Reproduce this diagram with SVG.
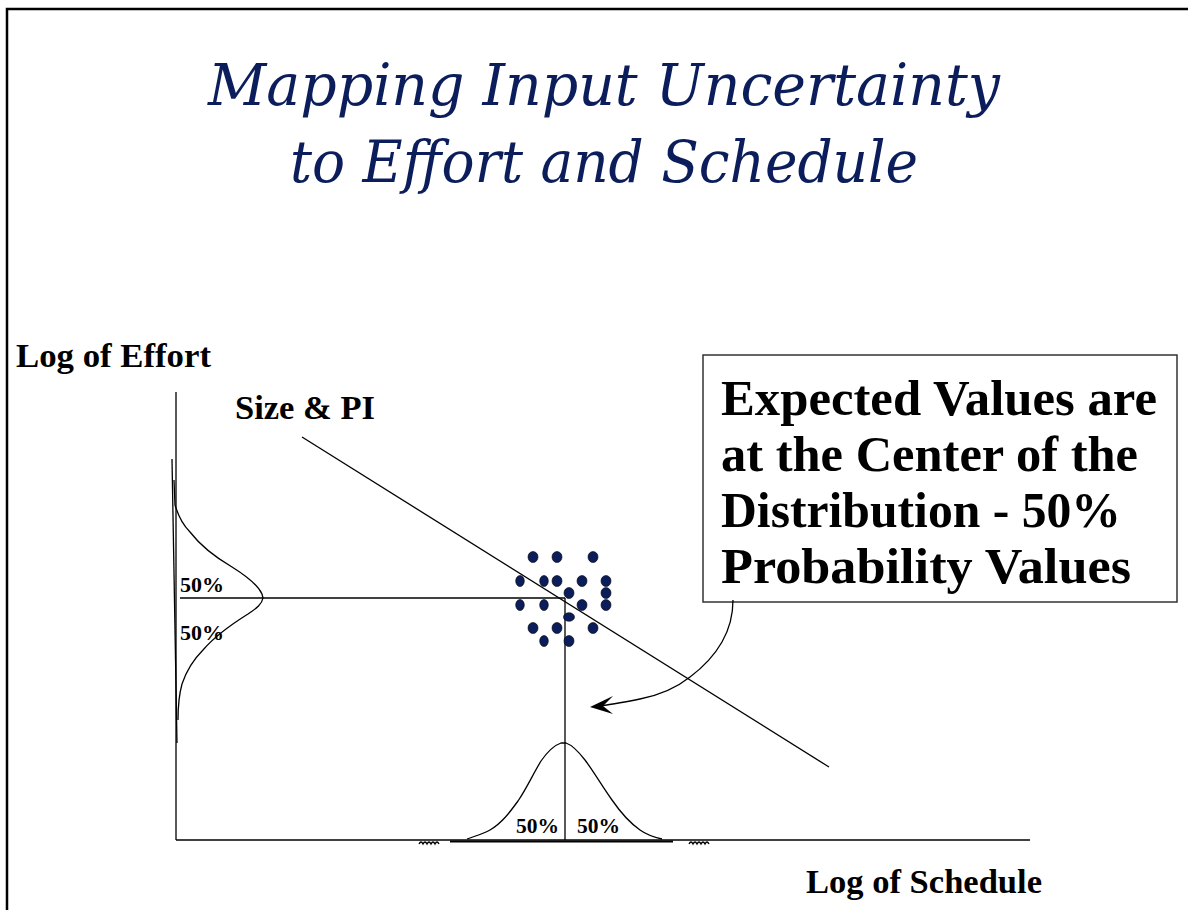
<svg xmlns="http://www.w3.org/2000/svg" width="1188" height="910" viewBox="0 0 1188 910">
<style>
.title{font-family:"DejaVu Serif","Liberation Serif",serif;font-style:italic;font-size:57px;fill:#0b1e5b;text-anchor:middle}
.lbl{font-family:"Liberation Serif","Times New Roman",serif;font-weight:bold;fill:#000}
.ax{fill:none;stroke:#000;stroke-width:1.3}
.dot{fill:#0b1e5b;stroke:#000;stroke-width:0.6}
</style>
<rect x="0" y="0" width="1188" height="910" fill="#fff"/>
<path d="M7,912 V9 H1190" fill="none" stroke="#000" stroke-width="2.5"/>
<g id="title">
<text class="title" x="604" y="105" textLength="792" lengthAdjust="spacingAndGlyphs">Mapping Input Uncertainty</text>
<text class="title" x="604" y="182" textLength="628" lengthAdjust="spacingAndGlyphs">to Effort and Schedule</text>
</g>
<g id="axes">
<line class="ax" x1="176" y1="392" x2="176" y2="840"/>
<line class="ax" x1="176" y1="840" x2="1030" y2="840"/>
<text class="lbl" x="16" y="367" font-size="34.5" textLength="195" lengthAdjust="spacingAndGlyphs">Log of Effort</text>
<text class="lbl" x="806" y="893" font-size="34.5" textLength="236" lengthAdjust="spacingAndGlyphs">Log of Schedule</text>
</g>
<g id="size-pi">
<line class="ax" x1="302" y1="437" x2="829" y2="767"/>
<text class="lbl" x="235" y="419" font-size="34.5" textLength="140" lengthAdjust="spacingAndGlyphs">Size &amp; PI</text>
</g>
<g id="effort-distribution">
<line class="ax" x1="172" y1="459" x2="177" y2="743"/>
<path class="ax" d="M174,480 L175,505 C178,515 183,525 190,532 C200,545 215,557 232,567 C248,577 258,585 262,594 L263,598 C262,604 257,608 248,614 C232,624 215,636 203,650 C193,660 186,672 182,684 C179,695 178,705 178,720"/>
<line class="ax" x1="180" y1="598" x2="565" y2="598"/>
<text class="lbl" x="180" y="592" font-size="22" textLength="44" lengthAdjust="spacingAndGlyphs">50%</text>
<text class="lbl" x="180" y="640" font-size="22" textLength="44" lengthAdjust="spacingAndGlyphs">50%</text>
</g>
<g id="schedule-distribution">
<line class="ax" x1="565" y1="598" x2="565" y2="840"/>
<path class="ax" d="M467,839 C475,836 483,834 490,830 C502,823 510,812 518,801 C527,788 533,774 541,761 C548,751 555,745 561,743 L566,743 C572,745 578,751 585,760 C594,772 602,786 612,800 C621,813 630,823 640,830 C647,835 653,837 662,839"/>
<line x1="450" y1="841.5" x2="673" y2="841.5" stroke="#000" stroke-width="2"/>
<path class="ax" d="M419,844 q2,-4 4,0 q2,-4 4,0 q2,-4 4,0 q2,-4 4,0 q2,-4 4,0" stroke-width="1"/>
<path class="ax" d="M689,844 q2,-4 4,0 q2,-4 4,0 q2,-4 4,0 q2,-4 4,0 q2,-4 4,0" stroke-width="1"/>
<text class="lbl" x="516" y="833" font-size="22" textLength="43" lengthAdjust="spacingAndGlyphs">50%</text>
<text class="lbl" x="577" y="833" font-size="22" textLength="43" lengthAdjust="spacingAndGlyphs">50%</text>
</g>
<g id="scatter">
<ellipse class="dot" cx="533" cy="557" rx="5" ry="5.5"/>
<ellipse class="dot" cx="557" cy="557" rx="5" ry="5.5"/>
<ellipse class="dot" cx="593" cy="557" rx="5" ry="5.5"/>
<ellipse class="dot" cx="520" cy="581" rx="4.3" ry="5.5"/>
<ellipse class="dot" cx="544" cy="581" rx="4.3" ry="5.5"/>
<ellipse class="dot" cx="557" cy="581" rx="5" ry="5.5"/>
<ellipse class="dot" cx="582" cy="581" rx="5" ry="5.5"/>
<ellipse class="dot" cx="606" cy="581" rx="5" ry="5.5"/>
<ellipse class="dot" cx="569" cy="593" rx="5" ry="5.5"/>
<ellipse class="dot" cx="606" cy="593" rx="5" ry="5.5"/>
<ellipse class="dot" cx="520" cy="605" rx="4.3" ry="5.5"/>
<ellipse class="dot" cx="544" cy="605" rx="4.3" ry="5.5"/>
<ellipse class="dot" cx="582" cy="605" rx="5" ry="5.5"/>
<ellipse class="dot" cx="606" cy="605" rx="5" ry="5.5"/>
<ellipse class="dot" cx="569" cy="617" rx="5.5" ry="4.3"/>
<ellipse class="dot" cx="533" cy="628" rx="5" ry="5.5"/>
<ellipse class="dot" cx="557" cy="628" rx="5" ry="5.5"/>
<ellipse class="dot" cx="593" cy="628" rx="5" ry="5.5"/>
<ellipse class="dot" cx="544" cy="641" rx="4.3" ry="5.5"/>
<ellipse class="dot" cx="569" cy="641" rx="5" ry="5.5"/>
</g>
<g id="callout">
<rect x="703" y="355" width="474" height="247" fill="#fff" stroke="#333" stroke-width="1.5"/>
<text class="lbl" x="721" y="415" font-size="51" textLength="436" lengthAdjust="spacingAndGlyphs">Expected Values are</text>
<text class="lbl" x="721" y="471" font-size="51" textLength="417" lengthAdjust="spacingAndGlyphs">at the Center of the</text>
<text class="lbl" x="721" y="527" font-size="51" textLength="400" lengthAdjust="spacingAndGlyphs">Distribution - 50%</text>
<text class="lbl" x="721" y="583" font-size="51" textLength="410" lengthAdjust="spacingAndGlyphs">Probability Values</text>
</g>
<g id="connectors">
<path class="ax" d="M733,600 C733,612 730,628 722,642 C714,656 702,668 690,677 C675,689 660,695 640,699 C625,702 610,705 598,706"/>
<path d="M590,707 L613,696 L603,706 L613,714 Z" fill="#000"/>
</g>
</svg>
